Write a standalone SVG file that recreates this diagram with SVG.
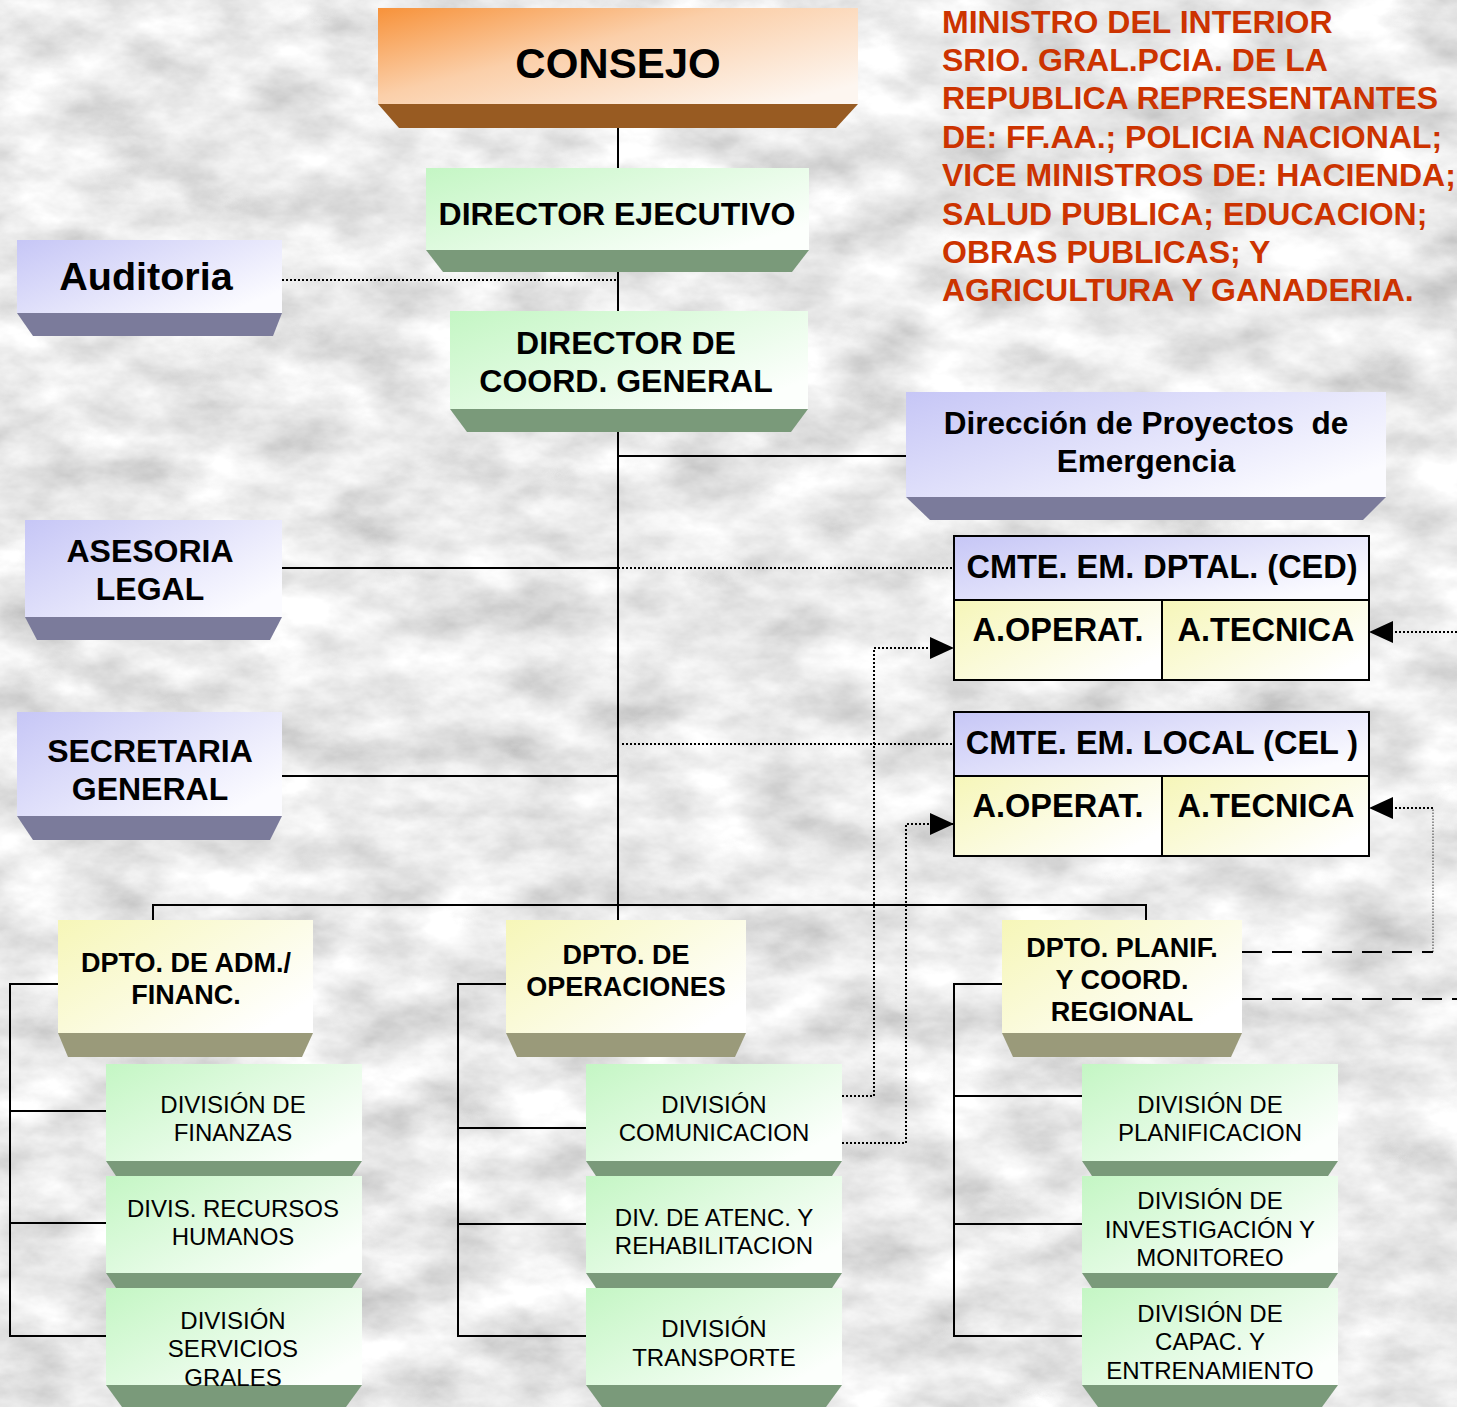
<svg xmlns="http://www.w3.org/2000/svg" width="1457" height="1407" viewBox="0 0 1457 1407">
<defs>
<filter id="marble" x="0" y="0" width="100%" height="100%">
<feTurbulence type="fractalNoise" baseFrequency="0.012 0.022" numOctaves="5" seed="7" result="n"/>
<feColorMatrix type="matrix" values="0.7 0 0 0 0.47  0.7 0 0 0 0.47  0.7 0 0 0 0.47  0 0 0 0 1"/>
</filter>
<linearGradient id="gOrange" x1="0" y1="0" x2="1" y2="0.8"><stop offset="0" stop-color="#f7923a"/><stop offset="0.45" stop-color="#fbcfa9"/><stop offset="1" stop-color="#fdf6f0"/></linearGradient>
<linearGradient id="gGreen" x1="0" y1="0" x2="1" y2="0.7"><stop offset="0" stop-color="#c4f6c4"/><stop offset="1" stop-color="#fcfffc"/></linearGradient>
<linearGradient id="gLav" x1="0" y1="0" x2="1" y2="0.7"><stop offset="0" stop-color="#c6c6f6"/><stop offset="1" stop-color="#fbfbff"/></linearGradient>
<linearGradient id="gYel" x1="0" y1="0" x2="1" y2="0.7"><stop offset="0" stop-color="#f6f6b8"/><stop offset="1" stop-color="#ffffff"/></linearGradient>
<marker id="arr" markerUnits="userSpaceOnUse" markerWidth="24" markerHeight="24" viewBox="0 0 24 24" refX="23" refY="12" orient="auto">
<path d="M0 1 L24 12 L0 23 Z" fill="#000"/>
</marker>
<style>
.t{font-family:"Liberation Sans",Arial,Helvetica,sans-serif;text-anchor:middle;fill:#000}
.b{font-weight:bold}
.red{font-family:"Liberation Sans",Arial,Helvetica,sans-serif;font-weight:bold;font-size:32px;fill:#cc3300}
.solid{fill:none;stroke:#000;stroke-width:2}
.dot{fill:none;stroke:#000;stroke-width:2;stroke-dasharray:2 2}
.thin{fill:none;stroke:#555;stroke-width:1.2;stroke-dasharray:1.5 1.5}
.dash{fill:none;stroke:#000;stroke-width:2;stroke-dasharray:20 10}
.bvG{fill:#7a9a7a}
.bvL{fill:#7b7b9b}
.bvY{fill:#9a9a7a}
.fG{fill:url(#gGreen)}
.fL{fill:url(#gLav)}
.fY{fill:url(#gYel)}
.box{stroke:#000;stroke-width:2}
</style>
</defs>
<rect x="0" y="0" width="1457" height="1407" filter="url(#marble)"/>

<g id="connectors">
<path class="solid" d="M618 128 V920"/>
<path class="dot" d="M282 280 H618"/>
<path class="solid" d="M618 456 H906"/>
<path class="solid" d="M282 568 H618"/>
<path class="dot" d="M618 568 H954"/>
<path class="solid" d="M282 776 H618"/>
<path class="dot" d="M622 744 H954"/>
<path class="solid" d="M153 920 V905 H1146 V920"/>
<path class="solid" d="M58 984 H10 V1336 H106 M10 1111 H106 M10 1223 H106"/>
<path class="solid" d="M506 984 H458 V1336 H586 M458 1128 H586 M458 1224 H586"/>
<path class="solid" d="M1002 984 H954 V1336 H1082 M954 1096 H1082 M954 1224 H1082"/>
<path class="dot" d="M842 1096 H874 V648 H953" marker-end="url(#arr)"/>
<path class="dot" d="M842 1143 H906 V824 H953" marker-end="url(#arr)"/>
<path class="dot" d="M1457 632 H1370" marker-end="url(#arr)"/>
<path class="thin" d="M1433 952 V808"/>
<path class="dot" d="M1433 808 H1370" marker-end="url(#arr)"/>
<path class="dash" d="M1242 952 H1433"/>
<path class="dash" d="M1242 999 H1457"/>
</g>

<g id="consejo">
<rect x="378" y="8" width="480" height="96" fill="url(#gOrange)"/>
<polygon points="378,104 858,104 836,128 399,128" fill="#985b22"/>
<text class="t b" x="618" y="78" font-size="42">CONSEJO</text>
</g>

<g id="director-ejecutivo">
<rect class="fG" x="426" y="168" width="383" height="82"/>
<polygon class="bvG" points="426,250 809,250 792,272 443,272"/>
<text class="t b" x="617" y="225" font-size="32">DIRECTOR EJECUTIVO</text>
</g>

<g id="director-coord">
<rect class="fG" x="450" y="311" width="358" height="98"/>
<polygon class="bvG" points="450,409 808,409 791,432 467,432"/>
<text class="t b" font-size="32"><tspan x="626" y="354">DIRECTOR DE</tspan><tspan x="626" y="392">COORD. GENERAL</tspan></text>
</g>

<g id="auditoria">
<rect class="fL" x="17" y="240" width="265" height="73"/>
<polygon class="bvL" points="17,313 282,313 273,336 33,336"/>
<text class="t b" x="146" y="290" font-size="39.5">Auditoria</text>
</g>

<g id="asesoria">
<rect class="fL" x="25" y="520" width="257" height="97"/>
<polygon class="bvL" points="25,617 282,617 270,640 37,640"/>
<text class="t b" font-size="32"><tspan x="150" y="562">ASESORIA</tspan><tspan x="150" y="600">LEGAL</tspan></text>
</g>

<g id="secretaria">
<rect class="fL" x="17" y="712" width="265" height="104"/>
<polygon class="bvL" points="17,816 282,816 270,840 33,840"/>
<text class="t b" font-size="32"><tspan x="150" y="762">SECRETARIA</tspan><tspan x="150" y="800">GENERAL</tspan></text>
</g>

<g id="direccion-proyectos">
<rect class="fL" x="906" y="392" width="480" height="105"/>
<polygon class="bvL" points="906,497 1386,497 1363,520 930,520"/>
<text class="t b" font-size="31.5" xml:space="preserve"><tspan x="1146" y="434">Dirección de Proyectos  de</tspan><tspan x="1146" y="472">Emergencia</tspan></text>
</g>

<g id="ced">
<rect class="fL box" x="954" y="536" width="415" height="64"/>
<rect class="fY box" x="954" y="600" width="208" height="80"/>
<rect class="fY box" x="1162" y="600" width="207" height="80"/>
<text class="t b" x="1162" y="578" font-size="32.5">CMTE. EM. DPTAL. (CED)</text>
<text class="t b" x="1058" y="641" font-size="32.5">A.OPERAT.</text>
<text class="t b" x="1266" y="641" font-size="32.5">A.TECNICA</text>
</g>

<g id="cel">
<rect class="fL box" x="954" y="712" width="415" height="64"/>
<rect class="fY box" x="954" y="776" width="208" height="80"/>
<rect class="fY box" x="1162" y="776" width="207" height="80"/>
<text class="t b" x="1162" y="754" font-size="32.5" xml:space="preserve">CMTE. EM. LOCAL (CEL )</text>
<text class="t b" x="1058" y="817" font-size="32.5">A.OPERAT.</text>
<text class="t b" x="1266" y="817" font-size="32.5">A.TECNICA</text>
</g>

<g id="dpto-adm">
<rect class="fY" x="58" y="920" width="255" height="113"/>
<polygon class="bvY" points="58,1033 313,1033 302,1057 68,1057"/>
<text class="t b" font-size="27"><tspan x="186" y="972">DPTO. DE ADM./</tspan><tspan x="186" y="1004">FINANC.</tspan></text>
</g>

<g id="dpto-oper">
<rect class="fY" x="506" y="920" width="240" height="113"/>
<polygon class="bvY" points="506,1033 746,1033 735,1057 517,1057"/>
<text class="t b" font-size="27"><tspan x="626" y="964">DPTO. DE</tspan><tspan x="626" y="996">OPERACIONES</tspan></text>
</g>

<g id="dpto-planif">
<rect class="fY" x="1002" y="920" width="240" height="113"/>
<polygon class="bvY" points="1002,1033 1242,1033 1231,1057 1013,1057"/>
<text class="t b" font-size="27"><tspan x="1122" y="957">DPTO. PLANIF.</tspan><tspan x="1122" y="989">Y COORD.</tspan><tspan x="1122" y="1021">REGIONAL</tspan></text>
</g>

<g id="div-finanzas">
<rect class="fG" x="106" y="1064" width="256" height="97"/>
<polygon class="bvG" points="106,1161 362,1161 352,1176 116,1176"/>
<text class="t" font-size="24"><tspan x="233" y="1113">DIVISIÓN DE</tspan><tspan x="233" y="1141">FINANZAS</tspan></text>
</g>
<g id="div-rrhh">
<rect class="fG" x="106" y="1176" width="256" height="97"/>
<polygon class="bvG" points="106,1273 362,1273 352,1288 116,1288"/>
<text class="t" font-size="24"><tspan x="233" y="1217">DIVIS. RECURSOS</tspan><tspan x="233" y="1245">HUMANOS</tspan></text>
</g>
<g id="div-servicios">
<rect class="fG" x="106" y="1288" width="256" height="97"/>
<polygon class="bvG" points="106,1385 362,1385 346,1407 122,1407"/>
<text class="t" font-size="24"><tspan x="233" y="1329">DIVISIÓN</tspan><tspan x="233" y="1357">SERVICIOS</tspan><tspan x="233" y="1386">GRALES</tspan></text>
</g>

<g id="div-comunicacion">
<rect class="fG" x="586" y="1064" width="256" height="97"/>
<polygon class="bvG" points="586,1161 842,1161 832,1176 596,1176"/>
<text class="t" font-size="24"><tspan x="714" y="1113">DIVISIÓN</tspan><tspan x="714" y="1141">COMUNICACION</tspan></text>
</g>
<g id="div-atencion">
<rect class="fG" x="586" y="1176" width="256" height="97"/>
<polygon class="bvG" points="586,1273 842,1273 832,1288 596,1288"/>
<text class="t" font-size="24"><tspan x="714" y="1226">DIV. DE ATENC. Y</tspan><tspan x="714" y="1254">REHABILITACION</tspan></text>
</g>
<g id="div-transporte">
<rect class="fG" x="586" y="1288" width="256" height="97"/>
<polygon class="bvG" points="586,1385 842,1385 826,1407 602,1407"/>
<text class="t" font-size="24"><tspan x="714" y="1337">DIVISIÓN</tspan><tspan x="714" y="1366">TRANSPORTE</tspan></text>
</g>

<g id="div-planificacion">
<rect class="fG" x="1082" y="1064" width="256" height="97"/>
<polygon class="bvG" points="1082,1161 1338,1161 1328,1176 1092,1176"/>
<text class="t" font-size="24"><tspan x="1210" y="1113">DIVISIÓN DE</tspan><tspan x="1210" y="1141">PLANIFICACION</tspan></text>
</g>
<g id="div-investigacion">
<rect class="fG" x="1082" y="1176" width="256" height="97"/>
<polygon class="bvG" points="1082,1273 1338,1273 1328,1288 1092,1288"/>
<text class="t" font-size="24"><tspan x="1210" y="1209">DIVISIÓN DE</tspan><tspan x="1210" y="1238">INVESTIGACIÓN Y</tspan><tspan x="1210" y="1266">MONITOREO</tspan></text>
</g>
<g id="div-capacitacion">
<rect class="fG" x="1082" y="1288" width="256" height="97"/>
<polygon class="bvG" points="1082,1385 1338,1385 1322,1407 1098,1407"/>
<text class="t" font-size="24"><tspan x="1210" y="1322">DIVISIÓN DE</tspan><tspan x="1210" y="1350">CAPAC. Y</tspan><tspan x="1210" y="1379">ENTRENAMIENTO</tspan></text>
</g>

<g id="consejo-members">
<text class="red"><tspan x="942" y="33">MINISTRO DEL INTERIOR</tspan><tspan x="942" y="71">SRIO. GRAL.PCIA. DE LA</tspan><tspan x="942" y="109">REPUBLICA REPRESENTANTES</tspan><tspan x="942" y="148">DE: FF.AA.; POLICIA NACIONAL;</tspan><tspan x="942" y="186">VICE MINISTROS DE: HACIENDA;</tspan><tspan x="942" y="225">SALUD PUBLICA; EDUCACION;</tspan><tspan x="942" y="263">OBRAS PUBLICAS; Y</tspan><tspan x="942" y="301">AGRICULTURA Y GANADERIA.</tspan></text>
</g>
</svg>
